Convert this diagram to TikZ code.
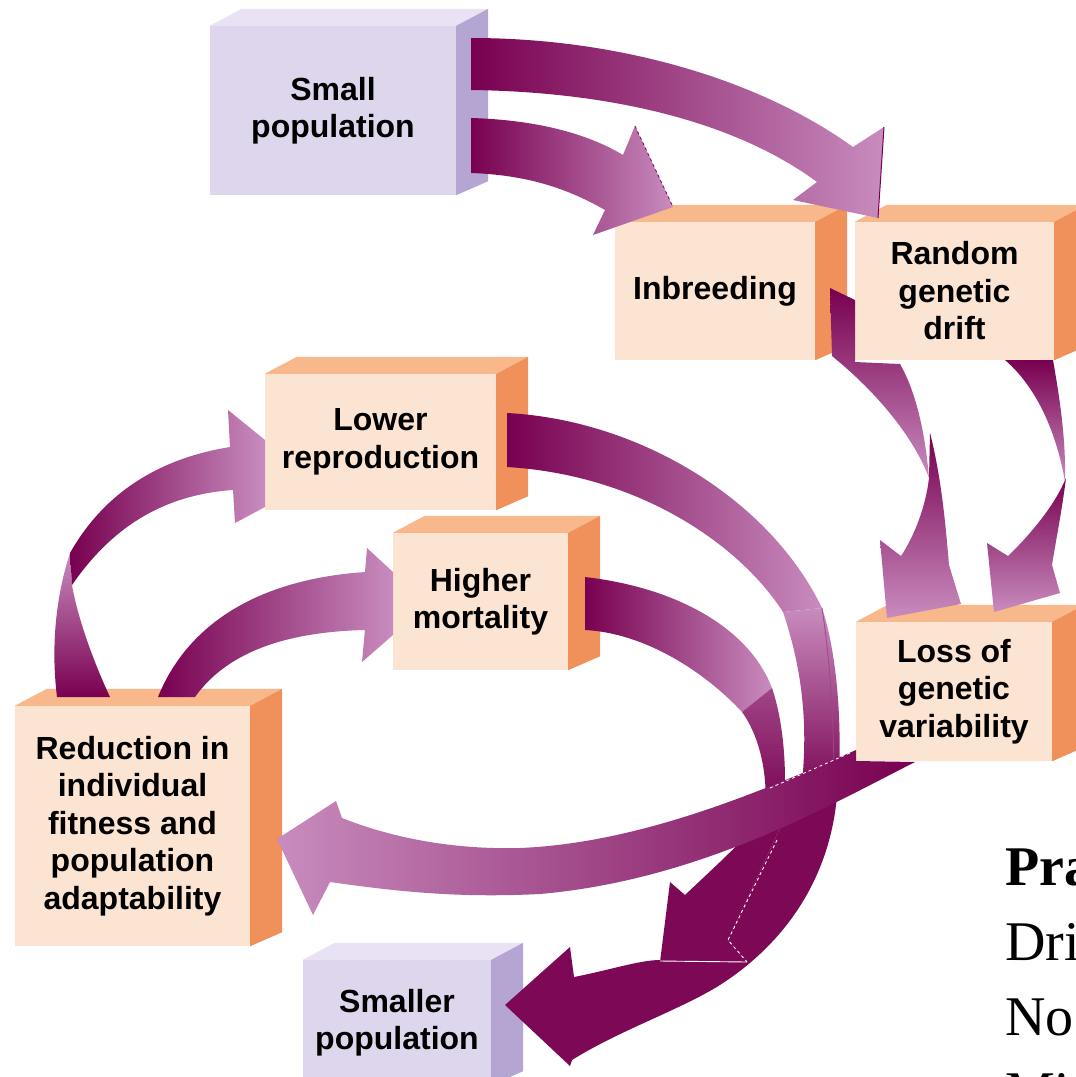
\documentclass[tikz,border=0pt]{standalone}
\usepackage{fontspec}
\setmainfont{Liberation Serif}
\newfontfamily\boxfont{Liberation Sans}
\definecolor{arrdark}{RGB}{120,0,80}
\definecolor{arrmid}{RGB}{160,70,135}
\definecolor{arrlight}{RGB}{200,140,190}
\definecolor{arrdeep}{RGB}{125,8,85}
\definecolor{orfront}{RGB}{252,228,210}
\definecolor{ortop}{RGB}{249,183,140}
\definecolor{orside}{RGB}{240,144,90}
\definecolor{pufront}{RGB}{221,214,236}
\definecolor{putop}{RGB}{232,226,244}
\definecolor{puside}{RGB}{180,165,210}
\newcommand{\boxsides}[2]{%
  \fill[#2top] (#1.north west) -- ([shift={(32,-17)}]#1.north west) -- ([shift={(32,-17)}]#1.north east) -- (#1.north east) -- cycle;
  \fill[#2side] (#1.north east) -- ([shift={(32,-17)}]#1.north east) -- ([shift={(32,-14)}]#1.south east) -- (#1.south east) -- cycle;
}
\begin{document}
\begin{tikzpicture}[x=1pt,y=-1pt,
  boxtext/.style={inner sep=0pt, align=center, font=\boxfont\bfseries\fontsize{32}{37.5}\selectfont},
  orbox/.style={boxtext, fill=orfront},
  pubox/.style={boxtext, fill=pufront},
  sidetext/.style={anchor=base west, inner sep=0pt, font=\fontsize{56}{60}\selectfont}
]
\path[use as bounding box] (0,0) rectangle (1076,1077);
\clip (0,0) rectangle (1076,1077);
\fill[white] (0,0) rectangle (1076,1077);

% ---------- boxes ----------
\node[pubox, minimum width=246pt, minimum height=169pt] (small) at (333,110.5) {Small\\population};
\boxsides{small}{pu}
\node[orbox, minimum width=200pt, minimum height=138pt] (inbr) at (715,291) {Inbreeding};
\boxsides{inbr}{or}
\node[orbox, minimum width=199pt, minimum height=138pt] (drift) at (954.5,291) {Random\\genetic\\drift};
\boxsides{drift}{or}
\node[orbox, minimum width=231pt, minimum height=136pt] (lower) at (380.5,442) {Lower\\reproduction};
\boxsides{lower}{or}
\node[orbox, minimum width=175pt, minimum height=137pt] (higher) at (480.5,601.5) {Higher\\mortality};
\boxsides{higher}{or}
\node[orbox, minimum width=235pt, minimum height=240pt] (reduc) at (132.5,826) {Reduction in\\individual\\fitness and\\population\\adaptability};
\boxsides{reduc}{or}
\node[pubox, minimum width=188pt, minimum height=125pt] (smaller) at (397,1022.5) {Smaller\\population};
\boxsides{smaller}{pu}
\node[orbox, minimum width=196pt, minimum height=139pt] (loss) at (954,691.5) {Loss of\\genetic\\variability};
\boxsides{loss}{or}

% ---------- Small population -> Random genetic drift ----------
\shade[left color=arrdark, right color=arrlight]
  (471,38) .. controls (620,38) and (760,80) .. (853,147)
  -- (884,127) -- (878,218) -- (793,200) -- (817,182)
  .. controls (740,125) and (620,92) .. (471,90) -- cycle;
\draw[arrdark, line width=1pt] (884,127) -- (878,218);
% ---------- Small population -> Inbreeding ----------
\shade[left color=arrdark, right color=arrlight]
  (471,118) .. controls (540,120) and (590,135) .. (623,155)
  -- (635,126) -- (673,207) -- (593,235) -- (605,210)
  .. controls (570,190) and (530,175) .. (471,173) -- cycle;
\draw[arrdark, line width=0.8pt, dashed] (635,126) -- (673,207);

% ---------- Inbreeding -> Loss ----------
\shade[top color=arrdark, bottom color=arrlight]
  (830,288) -- (855,300) -- (855,362) -- (900,364)
  .. controls (915,390) and (925,430) .. (929,478)
  .. controls (915,440) and (880,395) .. (832,356) -- cycle;
\shade[top color=arrdark, bottom color=arrlight]
  (930,433) .. controls (942,480) and (946,530) .. (949,565) -- (961,604) -- (887,618)
  -- (880,540) -- (901,556) .. controls (915,535) and (926,505) .. (929,478) -- cycle;
% ---------- Random genetic drift -> Loss ----------
\shade[top color=arrdark, bottom color=arrlight]
  (1005,360) -- (1053,360) .. controls (1060,400) and (1066,440) .. (1065,482)
  .. controls (1058,440) and (1040,390) .. (1005,360) -- cycle;
\shade[top color=arrdark, bottom color=arrlight]
  (1066,478) .. controls (1062,510) and (1056,540) .. (1052,565) -- (1060,593)
  -- (994,612) -- (987,543) -- (1008,556)
  .. controls (1030,535) and (1055,505) .. (1066,478) -- cycle;

% ---------- Reduction -> Lower reproduction ----------
\shade[top color=arrlight, bottom color=arrdark]
  (70,553) .. controls (58,590) and (50,640) .. (57,697) -- (110,697)
  .. controls (95,665) and (78,620) .. (72,585) -- cycle;
\shade[left color=arrdark, right color=arrlight]
  (70,553) .. controls (100,500) and (150,460) .. (230,447)
  -- (228,410) -- (265,440) -- (265,507) -- (235,523) -- (233,490)
  .. controls (160,495) and (110,530) .. (72,585) -- cycle;
% ---------- Reduction -> Higher mortality ----------
\shade[left color=arrdark, right color=arrlight]
  (158,697) .. controls (185,630) and (250,580) .. (365,572)
  -- (367,548) -- (393,572) -- (393,635) -- (362,662) -- (365,630)
  .. controls (280,632) and (225,655) .. (195,697) -- cycle;

% ---------- Higher mortality -> Smaller population ----------
\shade[left color=arrdark, right color=arrlight]
  (585,577) .. controls (680,588) and (750,630) .. (772,688) -- (742,712)
  .. controls (705,672) and (645,633) .. (585,630) -- cycle;
\shade[top color=arrmid, bottom color=arrdark]
  (772,688) .. controls (783,720) and (788,770) .. (783,815) -- (765,815)
  .. controls (768,780) and (762,740) .. (742,712) -- cycle;
\fill[arrdeep] (670,882) -- (685,895) -- (720,862) -- (758,825) -- (775,820)
  -- (780,828) -- (728,940) -- (747,962) -- (660,962) -- cycle;

% ---------- Lower reproduction -> Smaller population ----------
\shade[left color=arrdark, right color=arrlight]
  (507,413) .. controls (640,420) and (770,500) .. (822,608) -- (783,612)
  .. controls (740,545) and (640,475) .. (507,467) -- cycle;
\shade[top color=arrlight, bottom color=arrdark]
  (822,608) .. controls (836,650) and (843,720) .. (838,790) -- (800,800)
  .. controls (808,740) and (806,680) .. (783,612) -- cycle;
\draw[arrmid, line width=0.8pt] (822,608) .. controls (830,660) and (834,720) .. (834,785);
\fill[arrdeep] (838,780) .. controls (835,870) and (790,940) .. (720,985)
  .. controls (680,1010) and (620,1030) .. (572,1060) -- (570,1066) -- (505,1005)
  -- (570,947) -- (574,977) .. controls (610,970) and (640,960) .. (660,960)
  -- (747,962) -- (728,940) -- (780,828) -- (800,790) -- cycle;
\draw[white, line width=0.9pt, dashed] (777,840) -- (728,940) -- (747,962);
\draw[white, line width=0.9pt] (660,961) -- (747,962);

% ---------- Loss -> Reduction ----------
\shade[left color=arrlight, middle color={rgb,255:red,175;green,100;blue,160}, right color=arrdark]
  (856,750) .. controls (760,792) and (640,843) .. (520,848)
  .. controls (440,850) and (380,833) .. (342,818)
  -- (336,801) -- (277,839) -- (313,915) -- (330,882)
  .. controls (400,892) and (460,898) .. (540,894)
  .. controls (700,880) and (830,805) .. (915,762)
  -- (856,761) -- cycle;
\draw[white, line width=0.8pt, dashed] (770,788) -- (850,753);

% ---------- cut-off side text ----------
\node[sidetext, font=\fontsize{56}{60}\selectfont\bfseries] (t1) at (1005,885) {Pra};
\node[sidetext] (t2) at (1005,960) {Dri};
\node[sidetext] (t3) at (1005,1035) {No};
\node[sidetext] (t4) at (1005,1110) {Mi};
\end{tikzpicture}
\end{document}
